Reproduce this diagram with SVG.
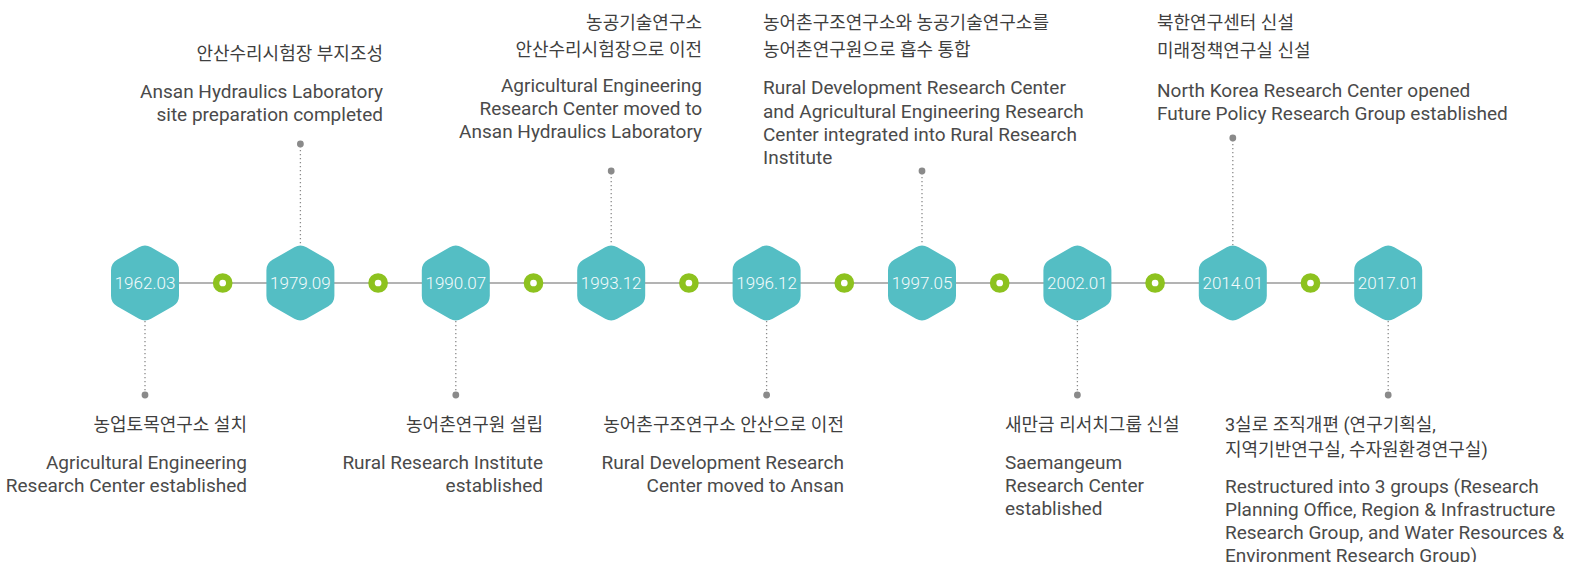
<svg xmlns="http://www.w3.org/2000/svg" xmlns:xlink="http://www.w3.org/1999/xlink" width="1583" height="562" viewBox="0 0 1583 562">
  <style>
    .kr { font-family: Roboto, "Noto Sans CJK KR", sans-serif; font-size: 18px; fill: #3f3f3f; }
    .en { font-family: Roboto, "Noto Sans", sans-serif; font-size: 19px; fill: #4a4a4a; }
    .date { font-family: Roboto, "Noto Sans", sans-serif; font-size: 17px; font-weight: 300; fill: #f4fbfc; text-anchor: middle; }
    .end { text-anchor: end; }
    .hex { fill: #54bec4; }
    .lead { stroke: #8a8a8a; stroke-width: 1.3; stroke-dasharray: 1.3 2.7; fill: none; }
    .pin { fill: #8a8a8a; }
    .axis { stroke: #9a9a9a; stroke-width: 1.5; fill: none; }
    .ring { fill: #ffffff; stroke: #8dc21f; stroke-width: 6.5; }
  </style>
  <defs>
    <!-- pointy-top hexagon with rounded corners, centred on 0,0 -->
    <path id="hex" d="M6.06,-35.76 L27.94,-23.13 Q34,-19.63 34,-12.63 L34,12.63 Q34,19.63 27.94,23.13 L6.06,35.76 Q0,39.26 -6.06,35.76 L-27.94,23.13 Q-34,19.63 -34,12.63 L-34,-12.63 Q-34,-19.63 -27.94,-23.13 L-6.06,-35.76 Q0,-39.26 6.06,-35.76 Z"/>
  </defs>
  <rect width="1583" height="562" fill="#ffffff"/>

  <!-- timeline axis and ring markers -->
  <g id="connectors">
    <line class="axis" x1="145" y1="283" x2="1388" y2="283"/>
    <circle class="ring" cx="222.7" cy="283" r="6.6"/>
    <circle class="ring" cx="378.1" cy="283" r="6.6"/>
    <circle class="ring" cx="533.5" cy="283" r="6.6"/>
    <circle class="ring" cx="688.9" cy="283" r="6.6"/>
    <circle class="ring" cx="844.3" cy="283" r="6.6"/>
    <circle class="ring" cx="999.7" cy="283" r="6.6"/>
    <circle class="ring" cx="1155.1" cy="283" r="6.6"/>
    <circle class="ring" cx="1310.5" cy="283" r="6.6"/>
  </g>

  <g id="node-1962">
    <line class="lead" x1="145" y1="321" x2="145" y2="393"/>
    <circle class="pin" cx="145" cy="395" r="3.4"/>
    <use xlink:href="#hex" x="145" y="283" class="hex"/>
    <text class="date" x="145" y="289">1962.03</text>
    <text class="kr end" x="247" y="431">농업토목연구소 설치</text>
    <text class="en end" x="247" y="469">Agricultural Engineering</text>
    <text class="en end" x="247" y="492">Research Center established</text>
  </g>

  <g id="node-1979">
    <line class="lead" x1="300.4" y1="146" x2="300.4" y2="245"/>
    <circle class="pin" cx="300.4" cy="144" r="3.4"/>
    <use xlink:href="#hex" x="300.4" y="283" class="hex"/>
    <text class="date" x="300.4" y="289">1979.09</text>
    <text class="kr end" x="383" y="60">안산수리시험장 부지조성</text>
    <text class="en end" x="383" y="97.5">Ansan Hydraulics Laboratory</text>
    <text class="en end" x="383" y="121">site preparation completed</text>
  </g>

  <g id="node-1990">
    <line class="lead" x1="455.8" y1="321" x2="455.8" y2="393"/>
    <circle class="pin" cx="455.8" cy="395" r="3.4"/>
    <use xlink:href="#hex" x="455.8" y="283" class="hex"/>
    <text class="date" x="455.8" y="289">1990.07</text>
    <text class="kr end" x="543" y="431">농어촌연구원 설립</text>
    <text class="en end" x="543" y="469">Rural Research Institute</text>
    <text class="en end" x="543" y="492">established</text>
  </g>

  <g id="node-1993">
    <line class="lead" x1="611.2" y1="173" x2="611.2" y2="245"/>
    <circle class="pin" cx="611.2" cy="171" r="3.4"/>
    <use xlink:href="#hex" x="611.2" y="283" class="hex"/>
    <text class="date" x="611.2" y="289">1993.12</text>
    <text class="kr end" x="702" y="29">농공기술연구소</text>
    <text class="kr end" x="702" y="56">안산수리시험장으로 이전</text>
    <text class="en end" x="702" y="91.5">Agricultural Engineering</text>
    <text class="en end" x="702" y="114.8">Research Center moved to</text>
    <text class="en end" x="702" y="138">Ansan Hydraulics Laboratory</text>
  </g>

  <g id="node-1996">
    <line class="lead" x1="766.6" y1="321" x2="766.6" y2="393"/>
    <circle class="pin" cx="766.6" cy="395" r="3.4"/>
    <use xlink:href="#hex" x="766.6" y="283" class="hex"/>
    <text class="date" x="766.6" y="289">1996.12</text>
    <text class="kr end" x="844" y="431">농어촌구조연구소 안산으로 이전</text>
    <text class="en end" x="844" y="469">Rural Development Research</text>
    <text class="en end" x="844" y="492">Center moved to Ansan</text>
  </g>

  <g id="node-1997">
    <line class="lead" x1="922" y1="173" x2="922" y2="245"/>
    <circle class="pin" cx="922" cy="171" r="3.4"/>
    <use xlink:href="#hex" x="922" y="283" class="hex"/>
    <text class="date" x="922" y="289">1997.05</text>
    <text class="kr" x="763" y="29">농어촌구조연구소와 농공기술연구소를</text>
    <text class="kr" x="763" y="56">농어촌연구원으로 흡수 통합</text>
    <text class="en" x="763" y="94">Rural Development Research Center</text>
    <text class="en" x="763" y="117.5">and Agricultural Engineering Research</text>
    <text class="en" x="763" y="141">Center integrated into Rural Research</text>
    <text class="en" x="763" y="164">Institute</text>
  </g>

  <g id="node-2002">
    <line class="lead" x1="1077.4" y1="321" x2="1077.4" y2="393"/>
    <circle class="pin" cx="1077.4" cy="395" r="3.4"/>
    <use xlink:href="#hex" x="1077.4" y="283" class="hex"/>
    <text class="date" x="1077.4" y="289">2002.01</text>
    <text class="kr" x="1005" y="431">새만금 리서치그룹 신설</text>
    <text class="en" x="1005" y="468.5">Saemangeum</text>
    <text class="en" x="1005" y="491.8">Research Center</text>
    <text class="en" x="1005" y="515">established</text>
  </g>

  <g id="node-2014">
    <line class="lead" x1="1232.8" y1="140" x2="1232.8" y2="245"/>
    <circle class="pin" cx="1232.8" cy="138" r="3.4"/>
    <use xlink:href="#hex" x="1232.8" y="283" class="hex"/>
    <text class="date" x="1232.8" y="289">2014.01</text>
    <text class="kr" x="1157" y="29">북한연구센터 신설</text>
    <text class="kr" x="1157" y="57">미래정책연구실 신설</text>
    <text class="en" x="1157" y="96.5">North Korea Research Center opened</text>
    <text class="en" x="1157" y="120">Future Policy Research Group established</text>
  </g>

  <g id="node-2017">
    <line class="lead" x1="1388.2" y1="321" x2="1388.2" y2="393"/>
    <circle class="pin" cx="1388.2" cy="395" r="3.4"/>
    <use xlink:href="#hex" x="1388.2" y="283" class="hex"/>
    <text class="date" x="1388.2" y="289">2017.01</text>
    <text class="kr" x="1225" y="431">3실로 조직개편 (연구기획실,</text>
    <text class="kr" x="1225" y="456">지역기반연구실, 수자원환경연구실)</text>
    <text class="en" x="1225" y="493">Restructured into 3 groups (Research</text>
    <text class="en" x="1225" y="516">Planning Office, Region &amp; Infrastructure</text>
    <text class="en" x="1225" y="539">Research Group, and Water Resources &amp;</text>
    <text class="en" x="1225" y="562">Environment Research Group)</text>
  </g>
</svg>
